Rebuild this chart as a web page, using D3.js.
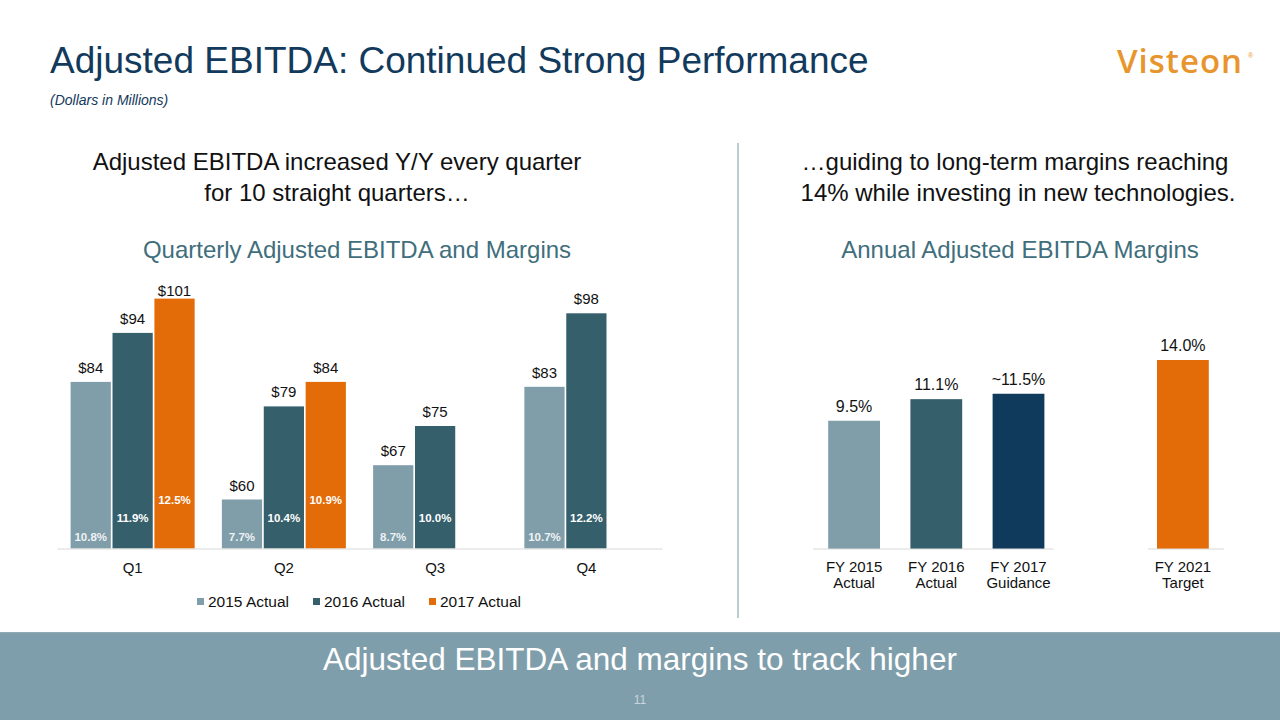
<!DOCTYPE html>
<html>
<head>
<meta charset="utf-8">
<script src="https://cdn.jsdelivr.net/npm/d3@7"></script>
<style>
  html, body { margin: 0; padding: 0; background: #ffffff; }
  svg { display: block; font-family: "Liberation Sans", Arial, sans-serif; }
</style>
</head>
<body>
<svg id="chart" width="1280" height="720"></svg>
<script>
// ---------- Data ----------
const quarters = ["Q1", "Q2", "Q3", "Q4"];
const seriesNames = ["2015 Actual", "2016 Actual", "2017 Actual"];
const ebitda2015 = [84, 60, 67, 83];
const ebitda2016 = [94, 79, 75, 98];
const ebitda2017 = [101, 84, null, null];
const margin2015 = ["10.8%", "7.7%", "8.7%", "10.7%"];
const margin2016 = ["11.9%", "10.4%", "10.0%", "12.2%"];
const margin2017 = ["12.5%", "10.9%", null, null];

const annualCats = ["FY 2015", "FY 2016", "FY 2017", "FY 2021"];
const annualSub = ["Actual", "Actual", "Guidance", "Target"];
const annualValues = [9.5, 11.1, 11.5, 14.0];
const annualLabels = ["9.5%", "11.1%", "~11.5%", "14.0%"];

// ---------- Styles ----------
const seriesColors = ["#7F9EAA", "#365F6C", "#E36C09"];
const annualColors = ["#7F9EAA", "#365F6C", "#103A5C", "#E36C09"];
const navy = "#123A5C";
const teal = "#3F6E7C";

const svg = d3.select("#chart");

// ---------- Header ----------
svg.append("text").attr("x", 50).attr("y", 73)
  .attr("font-size", 37).attr("fill", navy)
  .text("Adjusted EBITDA: Continued Strong Performance");
svg.append("text").attr("x", 50).attr("y", 105)
  .attr("font-size", 14).attr("font-style", "italic").attr("fill", navy)
  .text("(Dollars in Millions)");

// Logo
svg.append("text").attr("x", 1117).attr("y", 73)
  .attr("font-family", "'Open Sans', sans-serif")
  .attr("font-size", 33).attr("font-weight", 600).attr("fill", "#E9952D")
  .attr("textLength", 125).attr("lengthAdjust", "spacing")
  .text("Visteon");
svg.append("text").attr("x", 1248).attr("y", 58)
  .attr("font-size", 7).attr("fill", "#E9952D").text("®");

// Section headings
const h1 = svg.append("text").attr("text-anchor", "middle").attr("font-size", 24).attr("fill", "#111");
h1.append("tspan").attr("x", 337).attr("y", 170).text("Adjusted EBITDA increased Y/Y every quarter");
h1.append("tspan").attr("x", 337).attr("y", 201).text("for 10 straight quarters…");

const h2 = svg.append("text").attr("text-anchor", "middle").attr("font-size", 24).attr("fill", "#111");
h2.append("tspan").attr("x", 1015).attr("y", 170).text("…guiding to long-term margins reaching");
h2.append("tspan").attr("x", 1018).attr("y", 201).text("14% while investing in new technologies.");

svg.append("text").attr("x", 357).attr("y", 258).attr("text-anchor", "middle")
  .attr("font-size", 24).attr("fill", teal).text("Quarterly Adjusted EBITDA and Margins");
svg.append("text").attr("x", 1020).attr("y", 258).attr("text-anchor", "middle")
  .attr("font-size", 24).attr("fill", teal).text("Annual Adjusted EBITDA Margins");

// Divider
svg.append("line").attr("x1", 738).attr("x2", 738).attr("y1", 143).attr("y2", 618)
  .attr("stroke", "#A3BBC4").attr("stroke-width", 1.5);

// ---------- Left chart ----------
const baseL = 548.5;
const x0 = d3.scaleBand().domain(quarters).range([57, 662]).paddingInner(0.18).paddingOuter(0.09);
const x1 = d3.scaleBand().domain(seriesNames).range([0, x0.bandwidth()]).paddingInner(0.04);
const yL = d3.scaleLinear().domain([50, 110]).range([baseL, baseL - 60 * 4.9]);

const values = [ebitda2015, ebitda2016, ebitda2017];
const margins = [margin2015, margin2016, margin2017];
const pctOffsets = [7.5, 26.5, 44.5];

const rows = [];
quarters.forEach((q, qi) => {
  seriesNames.forEach((s, si) => {
    const v = values[si][qi];
    if (v != null) rows.push({ q, s, si, v, m: margins[si][qi] });
  });
});

const gL = svg.append("g");
gL.selectAll("rect.bar").data(rows).enter().append("rect")
  .attr("class", "bar")
  .attr("x", d => x0(d.q) + x1(d.s))
  .attr("y", d => yL(d.v))
  .attr("width", x1.bandwidth())
  .attr("height", d => baseL - yL(d.v))
  .attr("fill", d => seriesColors[d.si]);

gL.selectAll("text.val").data(rows).enter().append("text")
  .attr("class", "val")
  .attr("x", d => x0(d.q) + x1(d.s) + x1.bandwidth() / 2)
  .attr("y", d => Math.max(yL(d.v) - 9, 296))
  .attr("text-anchor", "middle").attr("font-size", 15).attr("fill", "#111")
  .text(d => "$" + d.v);

gL.selectAll("text.pct").data(rows).enter().append("text")
  .attr("class", "pct")
  .attr("x", d => x0(d.q) + x1(d.s) + x1.bandwidth() / 2)
  .attr("y", d => baseL - pctOffsets[d.si])
  .attr("text-anchor", "middle").attr("font-size", 11.5).attr("font-weight", "bold")
  .attr("fill", d => d.si === 0 ? "#EEF2F4" : "#ffffff")
  .text(d => d.m);

// axis
const axL = gL.append("g").attr("transform", `translate(0,${baseL})`)
  .call(d3.axisBottom(x0).tickSize(0).tickPadding(0));
axL.select(".domain").attr("stroke", "#D9D9D9").attr("stroke-width", 1.2);
axL.selectAll("text").attr("font-size", 15).attr("fill", "#111")
  .attr("font-family", "'Liberation Sans', Arial, sans-serif")
  .attr("dy", 0).attr("y", 24);

// legend
const legendX = [197, 313, 429];
const lg = svg.append("g");
seriesNames.forEach((s, i) => {
  lg.append("rect").attr("x", legendX[i]).attr("y", 598).attr("width", 7).attr("height", 7)
    .attr("fill", seriesColors[i]);
  lg.append("text").attr("x", legendX[i] + 11).attr("y", 607)
    .attr("font-size", 15.5).attr("fill", "#111").text(s);
});

// ---------- Right chart ----------
const baseR = 549;
const domainR = ["FY 2015", "FY 2016", "FY 2017", "gap", "FY 2021"];
const xR = d3.scaleBand().domain(domainR).range([813, 1224]).paddingInner(0.37).paddingOuter(0.185);
const yR = d3.scaleLinear().domain([0, 16]).range([baseR, baseR - 16 * 13.5]);

const annual = annualCats.map((c, i) => ({ c, sub: annualSub[i], v: annualValues[i], l: annualLabels[i], i }));
const gR = svg.append("g");
gR.selectAll("rect").data(annual).enter().append("rect")
  .attr("x", d => xR(d.c))
  .attr("y", d => yR(d.v))
  .attr("width", xR.bandwidth())
  .attr("height", d => baseR - yR(d.v))
  .attr("fill", d => annualColors[d.i]);

gR.selectAll("text.val").data(annual).enter().append("text")
  .attr("class", "val")
  .attr("x", d => xR(d.c) + xR.bandwidth() / 2)
  .attr("y", d => yR(d.v) - 9)
  .attr("text-anchor", "middle").attr("font-size", 16).attr("fill", "#111")
  .text(d => d.l);

const half = (xR.step() - xR.bandwidth()) / 2;
gR.append("line")
  .attr("x1", 813).attr("x2", xR("FY 2017") + xR.bandwidth() + half - 6)
  .attr("y1", baseR).attr("y2", baseR).attr("stroke", "#D9D9D9").attr("stroke-width", 1.2);
gR.append("line")
  .attr("x1", xR("FY 2021") - half + 6).attr("x2", xR("FY 2021") + xR.bandwidth() + half)
  .attr("y1", baseR).attr("y2", baseR).attr("stroke", "#D9D9D9").attr("stroke-width", 1.2);

const catT = gR.selectAll("text.cat").data(annual).enter().append("text")
  .attr("class", "cat").attr("text-anchor", "middle").attr("font-size", 15).attr("fill", "#111");
catT.append("tspan").attr("x", d => xR(d.c) + xR.bandwidth() / 2).attr("y", 572).text(d => d.c);
catT.append("tspan").attr("x", d => xR(d.c) + xR.bandwidth() / 2).attr("y", 588).text(d => d.sub);

// ---------- Bottom banner ----------
svg.append("rect").attr("x", 0).attr("y", 632).attr("width", 1280).attr("height", 88)
  .attr("fill", "#7F9EAB");
svg.append("line").attr("x1", 0).attr("x2", 1280).attr("y1", 632.5).attr("y2", 632.5)
  .attr("stroke", "#91ABB5").attr("stroke-width", 1);
svg.append("text").attr("x", 640).attr("y", 670).attr("text-anchor", "middle")
  .attr("font-size", 31.5).attr("fill", "#ffffff")
  .text("Adjusted EBITDA and margins to track higher");
svg.append("text").attr("x", 640).attr("y", 704).attr("text-anchor", "middle")
  .attr("font-size", 12).attr("fill", "#C9D6DB").text("11");
</script>
</body>
</html>
